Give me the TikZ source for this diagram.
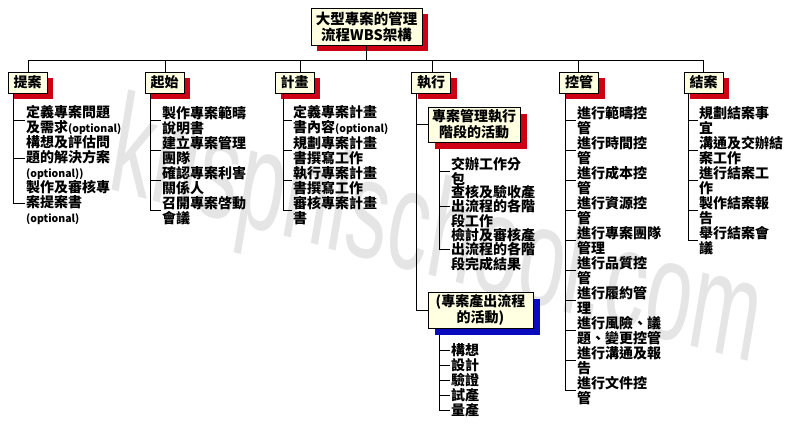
\documentclass[tikz,border=0pt]{standalone}
\usepackage{fontspec}
\setmainfont{Noto Sans CJK TC}
\newfontfamily\wmfont{Liberation Sans}
\usetikzlibrary{shadows}
\definecolor{cream}{RGB}{255,255,225}
\definecolor{shred}{RGB}{205,0,20}
\definecolor{shblue}{RGB}{10,10,190}
\tikzset{
 box/.style={draw=black, line width=0.7pt, fill=cream, inner sep=0pt, align=center, font=\fontsize{14}{16}\selectfont\bfseries},
 redsh/.style={general shadow={fill=shred, shadow xshift=6pt, shadow yshift=-6pt}},
 bluesh/.style={general shadow={fill=shblue, shadow xshift=7pt, shadow yshift=-7pt}},
 item/.style={anchor=west, align=left, inner xsep=1pt, inner ysep=0pt, font=\fontsize{14}{15}\selectfont\bfseries},
 itemb/.style={item, font=\fontsize{14}{14.5}\selectfont\bfseries},
 link/.style={draw=black, line width=0.7pt},
}
\newcommand{\optx}[1]{{\fontsize{10.5}{15}\selectfont #1}}
\begin{document}
\begin{tikzpicture}[x=1pt,y=-1pt]
\useasboundingbox[fill=white] (0,0) rectangle (800,428);
% watermark
\node[text=black!10, font=\wmfont\fontsize{140}{140}\selectfont, xscale=0.6, xslant=0.12, rotate=-9] (wm) at (436,240) {krisphischool.com};
% title
\node[box, redsh, minimum width=111, minimum height=37, font=\fontsize{14.5}{16}\selectfont\bfseries] (title) at (366.5,26.5) {大型專案的管理\\流程WBS架構};
% headers
\node[box, redsh, minimum width=39, minimum height=21] (h1) at (27.5,82.5) {提案};
\node[box, redsh, minimum width=39, minimum height=21] (h2) at (164.5,82.5) {起始};
\node[box, redsh, minimum width=39, minimum height=21] (h3) at (294.5,82.5) {計畫};
\node[box, redsh, minimum width=39, minimum height=21] (h4) at (431,82.5) {執行};
\node[box, redsh, minimum width=39, minimum height=21] (h5) at (579,82.5) {控管};
\node[box, redsh, minimum width=39, minimum height=21] (h6) at (703.5,82.5) {結案};
% bus
\coordinate (s1) at (28,60);
\coordinate (s2) at (165,60);
\coordinate (s3) at (300,60);
\coordinate (s4) at (432,60);
\coordinate (s5) at (578,60);
\coordinate (s6) at (703,60);
\draw[link] (title.south) -- (title.south |- s1);
\draw[link] (s1) -- (s6);
\foreach \i in {1,...,6} {\draw[link] (s\i) -- (s\i |- h\i.north);}
% column 1
\coordinate (v1) at (13,93);
\node[item] (a1) at (25,120.5) {定義專案問題\\及需求\optx{(optional)}};
\node[item] (a2) at (25,158) {構想及評估問\\題的解決方案\\\optx{(optional))}};
\node[item] (a3) at (25,203) {製作及審核專\\案提案書\\\optx{(optional)}};
\draw[link] (v1) |- (a3.west);
\foreach \n in {a1,a2} {\draw[link] (\n.west -| v1) -- (\n.west);}
% column 2
\coordinate (v2) at (150,93);
\node[item] (b1) at (161,120.5) {製作專案範疇\\說明書};
\node[item] (b2) at (161,150.5) {建立專案管理\\團隊};
\node[item] (b3) at (161,180.5) {確認專案利害\\關係人};
\node[item] (b4) at (161,210.5) {召開專案啓動\\會議};
\draw[link] (v2) |- (b4.west);
\foreach \n in {b1,b2,b3} {\draw[link] (\n.west -| v2) -- (\n.west);}
% column 3
\coordinate (v3) at (283,93);
\node[item] (c1) at (292,120.5) {定義專案計畫\\書內容\optx{(optional)}};
\node[item] (c2) at (292,150.5) {規劃專案計畫\\書撰寫工作};
\node[item] (c3) at (292,180.5) {執行專案計畫\\書撰寫工作};
\node[item] (c4) at (292,210.5) {審核專案計畫\\書};
\draw[link] (v3) |- (c4.west);
\foreach \n in {c1,c2,c3} {\draw[link] (\n.west -| v3) -- (\n.west);}
% column 4
\coordinate (v4) at (416,93);
\coordinate (w1) at (439,140);
\coordinate (w2) at (439,326);
\node[item] (e1) at (450,171) {交辦工作分\\包};
\node[itemb] (e2) at (450,206.5) {查核及驗收產\\出流程的各階\\段工作};
\node[itemb] (e3) at (450,249.5) {檢討及審核產\\出流程的各階\\段完成結果};
\node[item] (f1) at (450,350) {構想};
\node[item] (f2) at (450,365) {設計};
\node[item] (f3) at (450,380) {驗證};
\node[item] (f4) at (450,395) {試產};
\node[item] (f5) at (450,410) {量產};
\draw[link] (w1) |- (e3.west);
\foreach \n in {e1,e2} {\draw[link] (\n.west -| w1) -- (\n.west);}
\draw[link] (w2) |- (f5.west);
\foreach \n in {f1,f2,f3,f4} {\draw[link] (\n.west -| w2) -- (\n.west);}
\node[box, minimum width=92, minimum height=35, general shadow={fill=shred, shadow xshift=7pt, shadow yshift=-7pt}] (g1) at (474,124.5) {專案管理執行\\階段的活動};
\node[box, bluesh, minimum width=105, minimum height=36] (g2) at (480.5,310) {(專案產出流程\\的活動)};
\draw[link] (v4) |- (g2.west);
\draw[link] (g1.west -| v4) -- (g1.west);
% column 5
\coordinate (v5) at (565,93);
\node[item] (k1) at (576,120.5) {進行範疇控\\管};
\node[item] (k2) at (576,150.5) {進行時間控\\管};
\node[item] (k3) at (576,180.5) {進行成本控\\管};
\node[item] (k4) at (576,210.5) {進行資源控\\管};
\node[item] (k5) at (576,240.5) {進行專案團隊\\管理};
\node[item] (k6) at (576,270.5) {進行品質控\\管};
\node[item] (k7) at (576,300.5) {進行履約管\\理};
\node[item] (k8) at (576,330.5) {進行風險、議\\題、變更控管};
\node[item] (k9) at (576,360.5) {進行溝通及報\\告};
\node[item] (k10) at (576,390.5) {進行文件控\\管};
\draw[link] (v5) |- (k10.west);
\foreach \n in {k1,k2,k3,k4,k5,k6,k7,k8,k9} {\draw[link] (\n.west -| v5) -- (\n.west);}
% column 6
\coordinate (v6) at (688,93);
\node[item] (m1) at (698,120.5) {規劃結案事\\宜};
\node[item] (m2) at (698,150.5) {溝通及交辦結\\案工作};
\node[item] (m3) at (698,180.5) {進行結案工\\作};
\node[item] (m4) at (698,210.5) {製作結案報\\告};
\node[item] (m5) at (698,240.5) {舉行結案會\\議};
\draw[link] (v6) |- (m5.west);
\foreach \n in {m1,m2,m3,m4} {\draw[link] (\n.west -| v6) -- (\n.west);}
\end{tikzpicture}
\end{document}
